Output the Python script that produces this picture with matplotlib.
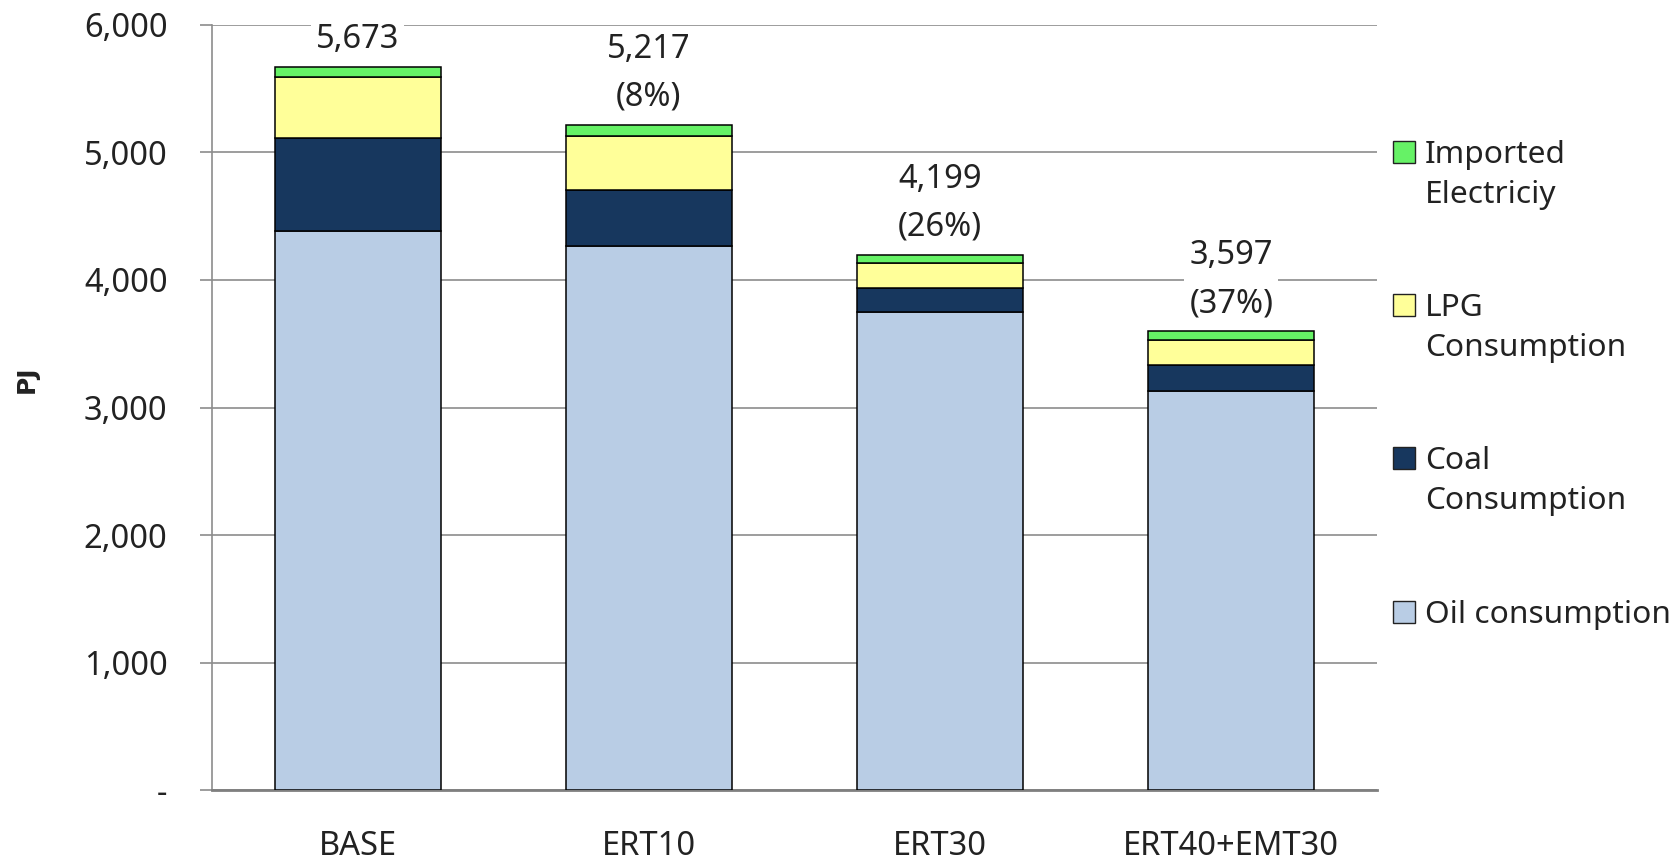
import matplotlib
matplotlib.use("Agg")
import matplotlib.pyplot as plt
from matplotlib.patches import Rectangle
from matplotlib.ticker import FuncFormatter
import numpy as np

plt.rcParams["font.family"] = ["Noto Sans", "DejaVu Sans"]

# Scenario energy consumption (PJ)
scenarios = ["BASE", "ERT10", "ERT30", "ERT40+EMT30"]
oil = [4387, 4269, 3747, 3132]
coal = [729, 439, 190, 204]
lpg = [474, 424, 196, 196]
elec = [83, 85, 66, 65]

series_names = ["Oil consumption", "Coal\nConsumption", "LPG\nConsumption", "Imported\nElectriciy"]
series_colors = ["#B9CDE5", "#17375E", "#FFFF99", "#66F266"]

TEXT = "#222222"
GRID = "#8C8C8C"
FS = 23.5

fig = plt.figure(figsize=(16.8, 8.64), dpi=100)
ax = fig.add_axes([0.1262, 0.0856, 0.6934, 0.8855])

x = np.arange(len(scenarios))
width = 0.57
bottom = np.zeros(len(scenarios))
for vals, color in zip([oil, coal, lpg, elec], series_colors):
    ax.bar(x, vals, width, bottom=bottom, color=color, edgecolor="black",
           linewidth=1.1, zorder=3)
    bottom += np.array(vals)

# totals with reduction versus BASE
totals = bottom
for i, tot in enumerate(totals):
    label = f"{int(tot):,}"
    if i > 0:
        pct = (totals[0] - tot) / totals[0] * 100
        label += f"\n({pct:.0f}%)"
    ax.annotate(label, (x[i], tot), xytext=(0, 8), textcoords="offset points",
                ha="center", va="bottom", fontsize=FS, color=TEXT,
                linespacing=1.6, zorder=4,
                bbox=dict(boxstyle="square,pad=0.15", fc="white", ec="none"))

ax.set_xlim(-0.5, len(scenarios) - 0.5)
ax.set_ylim(0, 6000)
ax.set_yticks(np.arange(0, 6001, 1000))
ax.yaxis.set_major_formatter(FuncFormatter(lambda v, p: "-" if v == 0 else f"{int(v):,}"))
ax.set_xticks(x)
ax.set_xticklabels(scenarios, fontsize=23.5)

ax.yaxis.grid(True, color=GRID, linewidth=1.2, zorder=0)
ax.set_axisbelow(True)
for side in ["top", "right"]:
    ax.spines[side].set_visible(False)
ax.spines["left"].set_color(GRID)
ax.spines["left"].set_linewidth(1.2)
ax.spines["bottom"].set_color("#7F7F7F")
ax.spines["bottom"].set_linewidth(2.0)

ax.tick_params(axis="y", direction="out", length=9, width=1.2, color=GRID,
               pad=23, labelsize=FS, labelcolor=TEXT)
ax.tick_params(axis="x", length=0, pad=29, labelcolor=TEXT)

fig.text(27 / 1680, 1 - 379 / 864, "PJ", rotation=90, ha="center", va="center",
         fontsize=18, fontweight="bold", color=TEXT,
         family=["DejaVu Sans"])

# legend, top entry first
W, H = 1680, 864
entry_y = [612, 458, 305, 152]
box = 22
for name, color, yc in zip(series_names, series_colors, entry_y):
    fig.add_artist(Rectangle((1393 / W, 1 - (yc + box / 2) / H), box / W, box / H,
                             transform=fig.transFigure, facecolor=color,
                             edgecolor="#222222", linewidth=1.0))
    fig.text(1425 / W, 1 - (yc - 12) / H, name, ha="left", va="top",
             fontsize=22.8, color=TEXT, linespacing=1.45)

fig.savefig("out.png", dpi=100)
